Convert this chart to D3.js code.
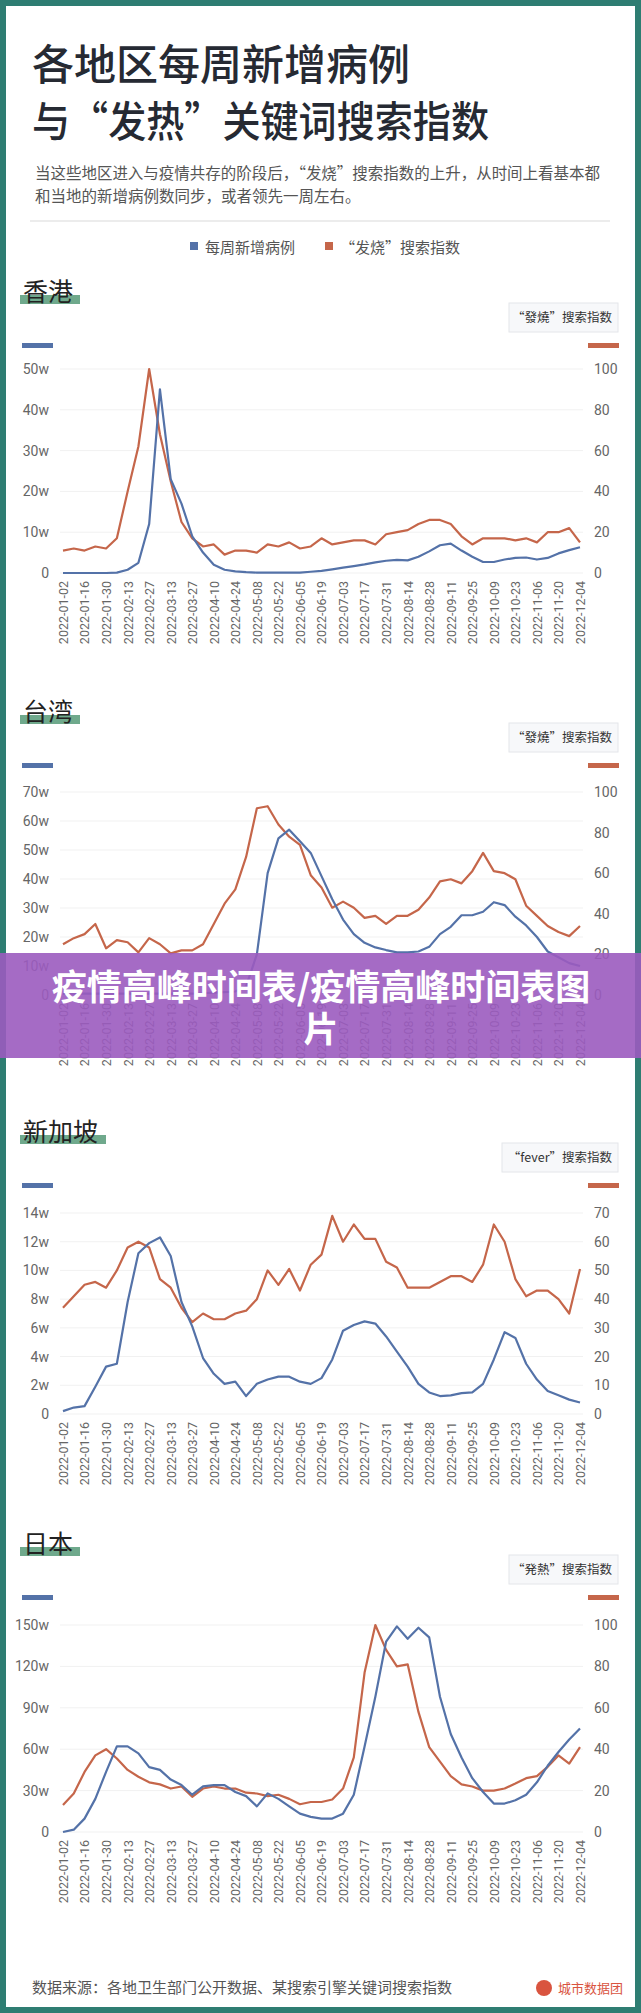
<!DOCTYPE html>
<html><head><meta charset="utf-8">
<script src="https://cdn.jsdelivr.net/npm/d3@7"></script>
<style>body{margin:0;background:#fff}svg{display:block}</style>
</head><body>
<script>
const dates=[];{let d=new Date(Date.UTC(2022,0,2));for(let i=0;i<49;i++){dates.push(d.toISOString().slice(0,10));d=new Date(d.getTime()+7*864e5);}}
const hkCases=[0,0,0,0,0,0.1,0.8,2.5,12,45,23,17,9,5,2,0.8,0.4,0.2,0.1,0.1,0.1,0.1,0.1,0.3,0.5,0.9,1.3,1.7,2.1,2.6,3.0,3.2,3.1,4,5.3,6.8,7.2,5.5,4,2.7,2.7,3.3,3.7,3.8,3.3,3.7,4.8,5.6,6.3];
const hkIndex=[11,12,11,13,12,17,40,62,100,68,45,25,17,13,14,9,11,11,10,14,13,15,12,13,17,14,15,16,16,14,19,20,21,24,26,26,24,18,14,17,17,17,16,17,15,20,20,22,15];
const twCases=[0.5,0.5,0.5,0.5,0.5,0.5,0.5,0.5,0.5,0.5,0.5,0.5,0.5,0.6,0.8,1,1.2,3,14,42,54,57,53,49,41,33,26,21,18,16.4,15.5,14.7,14.7,15,16.6,21,23.5,27.5,27.5,28.7,32,31,27,24,20,15,13,11,10];
const twIndex=[25,28,30,35,23,27,26,21,28,25,20.5,22,22,25,35,45,52,68,92,93,84,78,74,59,53,43,46,43,38,39,35,39,39,42,48,56,57,55,61,70,61,60,57,44,39,34,31,29,34];
const sgCases=[0.2,0.45,0.55,1.9,3.3,3.5,7.8,11.2,11.9,12.3,11,7.8,6.1,3.9,2.8,2.1,2.25,1.25,2.1,2.4,2.6,2.6,2.25,2.1,2.5,3.8,5.8,6.2,6.45,6.3,5.4,4.35,3.3,2.1,1.5,1.25,1.3,1.45,1.5,2.1,3.8,5.7,5.3,3.5,2.4,1.6,1.3,1.0,0.8];
const sgIndex=[37,41,45,46,44,50,58,60,58,47,44,37,32,35,33,33,35,36,40,50,45,50.5,43,52,55.5,69,60,66,61,61,53,51,44,44,44,46,48,48,46,52,66,60,47,41,43,43,40,35,50.5];
const jpCases=[0,1.7,9.7,24,43.6,62,62,57,47,45,38,34,27,33,34,34,29,26,18.6,28,24,18.6,13.3,11,9.7,9.7,13.3,27,62,98,138,149,140,148,141,98,71,54,39,29,20.6,20.6,23,27,36,48,58,67,75];
const jpIndex=[13,18.6,29,37,40,35.5,30,26.7,24,23,21,22,17,21,22,21,21,19,18.6,17.3,18,16,13.4,14.5,14.5,15.7,21,36,77,100,88,80,81,58,41,34,27,23,22,20,20,21,23.4,26,27,31.5,37,33,41];
const panels=[
 {name:"香港",key:"“發燒”搜索指数",cases:hkCases,index:hkIndex,lt:[0,10,20,30,40,50],rt:[0,20,40,60,80,100],lmax:50,rmax:100,base:270,top:369,bot:573},
 {name:"台湾",key:"“發燒”搜索指数",cases:twCases,index:twIndex,lt:[0,10,20,30,40,50,60,70],rt:[0,20,40,60,80,100],lmax:70,rmax:100,base:690,top:792,bot:995},
 {name:"新加坡",key:"“fever”搜索指数",cases:sgCases,index:sgIndex,lt:[0,2,4,6,8,10,12,14],rt:[0,10,20,30,40,50,60,70],lmax:14,rmax:70,base:1110,top:1213,bot:1414},
 {name:"日本",key:"“発熱”搜索指数",cases:jpCases,index:jpIndex,lt:[0,30,60,90,120,150],rt:[0,20,40,60,80,100],lmax:150,rmax:100,base:1522,top:1625,bot:1832}
];
const BLUE="#5472a8",ORANGE="#c5664a",TEAL="#2e7d72",FONT="'Noto Sans CJK SC','Noto Sans',sans-serif";
const W=641,H=2013;
const svg=d3.select("body").append("svg").attr("width",W).attr("height",H).style("font-family",FONT);
svg.append("rect").attr("width",W).attr("height",H).attr("fill",TEAL);
svg.append("rect").attr("x",6).attr("y",6).attr("width",W-12).attr("height",H-12).attr("fill","#fff");
svg.append("text").attr("x",32).attr("y",80).attr("font-size",42).attr("font-weight",500).attr("fill","#262a33").text("各地区每周新增病例");
svg.append("text").attr("x",32).attr("y",137).attr("font-size",42).attr("font-weight",500).attr("fill","#262a33").attr("textLength",457).attr("lengthAdjust","spacingAndGlyphs").text("与“发热”关键词搜索指数");
svg.append("text").attr("x",35).attr("y",179).attr("font-size",15.5).attr("fill","#555").attr("textLength",565).attr("lengthAdjust","spacingAndGlyphs").text("当这些地区进入与疫情共存的阶段后，“发烧”搜索指数的上升，从时间上看基本都");
svg.append("text").attr("x",35).attr("y",202).attr("font-size",15.5).attr("fill","#555").text("和当地的新增病例数同步，或者领先一周左右。");
svg.append("line").attr("x1",30).attr("x2",610).attr("y1",221).attr("y2",221).attr("stroke","#e6e6e6").attr("stroke-width",1.5);
const lg=svg.append("g").attr("font-size",15).attr("fill","#555");
lg.append("rect").attr("x",190).attr("y",242).attr("width",8).attr("height",8).attr("fill",BLUE);
lg.append("text").attr("x",205).attr("y",253).text("每周新增病例");
lg.append("rect").attr("x",325).attr("y",242).attr("width",8).attr("height",8).attr("fill",ORANGE);
lg.append("text").attr("x",340).attr("y",253).text("“发烧”搜索指数");
const x=d3.scalePoint().domain(dates).range([63,580]);
panels.forEach(p=>{
  const g=svg.append("g");
  const tw=p.name.length*26+8;
  g.append("rect").attr("x",20).attr("y",p.base+25).attr("width",tw).attr("height",9).attr("fill","#6fa98c");
  g.append("text").attr("x",23).attr("y",p.base+31).attr("font-size",25).attr("fill","#222").text(p.name);
  g.append("rect").attr("x",p.key.includes("fever")?502:509).attr("y",p.base+33).attr("width",p.key.includes("fever")?116:109).attr("height",29).attr("fill","#f7f8fa").attr("stroke","#e4e6ea");
  g.append("text").attr("x",612).attr("y",p.base+52).attr("text-anchor","end").attr("font-size",12.5).attr("fill","#333").text(p.key);
  g.append("rect").attr("x",22).attr("y",p.base+73).attr("width",31).attr("height",5).attr("fill",BLUE);
  g.append("rect").attr("x",588).attr("y",p.base+73).attr("width",31).attr("height",5).attr("fill",ORANGE);
  const yl=d3.scaleLinear().domain([0,p.lmax]).range([p.bot,p.top]);
  const yr=d3.scaleLinear().domain([0,p.rmax]).range([p.bot,p.top]);
  g.selectAll(".grid").data(p.lt).join("line").attr("x1",60).attr("x2",583).attr("y1",d=>yl(d)).attr("y2",d=>yl(d)).attr("stroke","#f1f1f1");
  const la=g.append("g").attr("transform","translate(52,0)").call(d3.axisLeft(yl).tickValues(p.lt).tickSize(0).tickFormat(d=>d===0?"0":d+"w"));
  const ra=g.append("g").attr("transform","translate(591,0)").call(d3.axisRight(yr).tickValues(p.rt).tickSize(0));
  const xa=g.append("g").attr("transform",`translate(0,${p.bot+8})`).call(d3.axisBottom(x).tickValues(dates.filter((d,i)=>i%2===0)).tickSize(0));
  [la,ra,xa].forEach(a=>{a.select(".domain").remove();a.selectAll("text").attr("fill","#666").attr("font-size",14).attr("font-family","Roboto,sans-serif");});
  xa.selectAll("text").attr("font-size",12.5).attr("transform","rotate(-90)").attr("text-anchor","end").attr("dx",0).attr("dy","0.35em").attr("x",0).attr("y",0);
  const line=(ys,vals)=>d3.line().x((d,i)=>x(dates[i])).y(d=>ys(d))(vals);
  g.append("path").attr("d",line(yr,p.index)).attr("fill","none").attr("stroke",ORANGE).attr("stroke-width",2.2).attr("stroke-linejoin","round");
  g.append("path").attr("d",line(yl,p.cases)).attr("fill","none").attr("stroke",BLUE).attr("stroke-width",2.2).attr("stroke-linejoin","round");
});
svg.append("text").attr("x",32).attr("y",1993).attr("font-size",15).attr("fill","#555").text("数据来源：各地卫生部门公开数据、某搜索引擎关键词搜索指数");
svg.append("circle").attr("cx",544).attr("cy",1988).attr("r",8).attr("fill","#d9543f");
svg.append("text").attr("x",558).attr("y",1993).attr("font-size",13).attr("fill","#d9543f").text("城市数据团");
svg.append("rect").attr("x",0).attr("y",953).attr("width",W).attr("height",105).attr("fill","#9b5bbf").attr("opacity",0.9);
svg.append("text").attr("x",321).attr("y",1000).attr("text-anchor","middle").attr("font-size",35).attr("font-weight",700).attr("fill","#fff").text("疫情高峰时间表/疫情高峰时间表图");
svg.append("text").attr("x",321).attr("y",1042).attr("text-anchor","middle").attr("font-size",35).attr("font-weight",700).attr("fill","#fff").text("片");
</script>
</body></html>
